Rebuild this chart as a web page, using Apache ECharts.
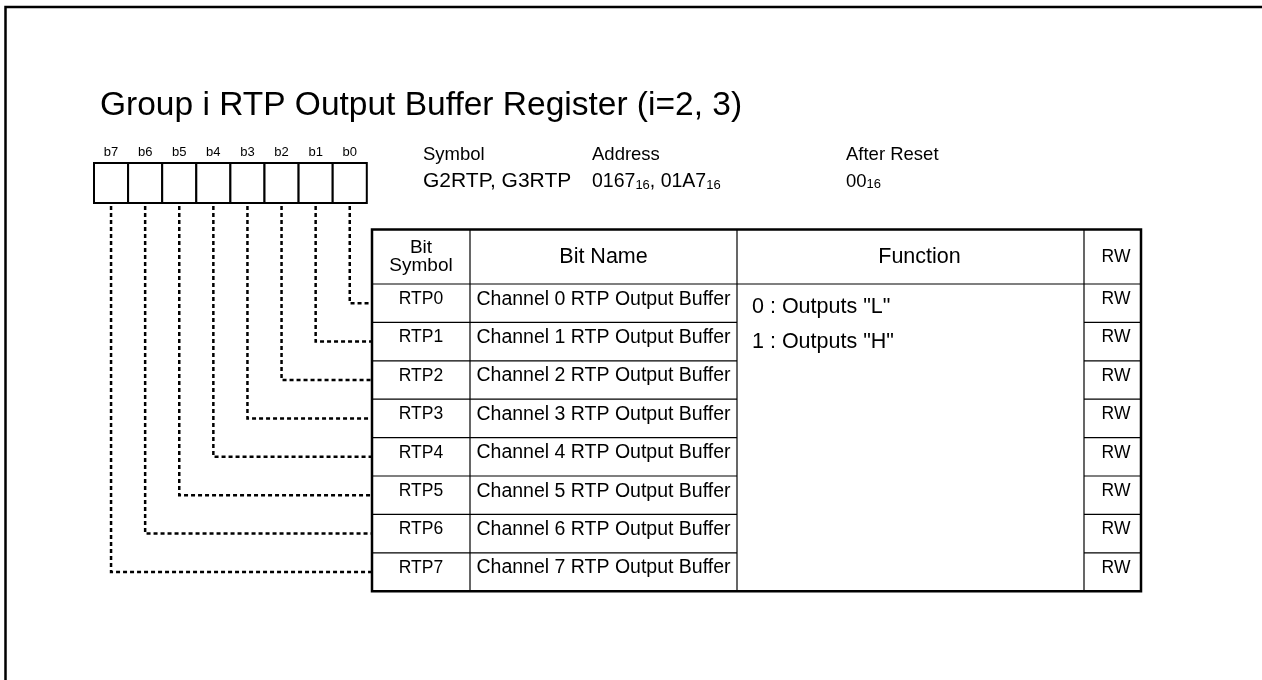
<!DOCTYPE html>
<html>
<head>
<meta charset="utf-8">
<script src="https://cdn.jsdelivr.net/npm/echarts@6/dist/echarts.min.js"></script>
<style>
html,body{margin:0;padding:0;background:#fff;}
#c{width:1262px;height:680px;}
</style>
</head>
<body>
<div id="c"></div>
<script>
// ---------------- data ----------------
const titleText = 'Group i RTP Output Buffer Register (i=2, 3)';
const bitLabels = ['b7', 'b6', 'b5', 'b4', 'b3', 'b2', 'b1', 'b0'];
const infoLabels = ['Symbol', 'Address', 'After Reset'];
const registerSymbols = ['G2RTP', 'G3RTP'];
const registerAddresses = ['0167', '01A7'];
const afterResetValue = '00';
const radix = '16';
const headerLabels = ['Bit\nSymbol', 'Bit Name', 'Function', 'RW'];
const bitSymbols = ['RTP0', 'RTP1', 'RTP2', 'RTP3', 'RTP4', 'RTP5', 'RTP6', 'RTP7'];
const bitNames = [
  'Channel 0 RTP Output Buffer', 'Channel 1 RTP Output Buffer',
  'Channel 2 RTP Output Buffer', 'Channel 3 RTP Output Buffer',
  'Channel 4 RTP Output Buffer', 'Channel 5 RTP Output Buffer',
  'Channel 6 RTP Output Buffer', 'Channel 7 RTP Output Buffer'
];
const functionLines = ['0 : Outputs "L"', '1 : Outputs "H"'];
const rwValues = ['RW', 'RW', 'RW', 'RW', 'RW', 'RW', 'RW', 'RW'];

// ---------------- layout (kept apart from data) ----------------
const FONT = '"Liberation Sans", Arial, Helvetica, sans-serif';
const INK = '#000';
const PAGE = { w: 1262, h: 680, frameX: 5.5, frameY: 7, frameW: 2.5 };
const BB = { left: 94, top: 163, cellW: 34.1, height: 40, labelY: 152, labelSize: 13, lineW: 2 };
const INFO = { xs: [423, 592, 846], labelY: 154.5, valueY: 181.5, labelSize: 18.5, valueSizes: [21, 19.5, 18.5], subSize: 13 };
const TB = {
  top: 229.5, headerH: 54.5, rowH: 38.4,
  cols: [372, 470, 737, 1084, 1141],
  headDx: [0, 0, 9, 3.5], rwDx: 3.5,
  outerW: 2.5, innerW: 1.2, textDy: -4,
  symSize: 17.5, nameSize: 19.5, rwSize: 17.5, headSize: 21.5, headSmall: 19, headSmallLH: 17.5
};
const FN = { x: 752, ys: [307, 342.5], size: 21.5 };
const CONN = { startY: 206, dash: [4, 3], width: 2.5 };

function rowCenter(k) { return TB.top + TB.headerH + (k + 0.5) * TB.rowH; }
function font(size) { return size + 'px ' + FONT; }
function textEl(p, text, size, align, extra) {
  return {
    type: 'text', x: p[0], y: p[1],
    style: Object.assign({ text: text, fill: INK, font: font(size), align: align || 'center', verticalAlign: 'middle' }, extra || {})
  };
}
function lineEl(a, b, w, dash) {
  return { type: 'line', shape: { x1: a[0], y1: a[1], x2: b[0], y2: b[1] },
    style: { stroke: INK, lineWidth: w, lineDash: dash || null } };
}

// page frame (top and left rule)
function renderPage(params, api) {
  return { type: 'polyline',
    shape: { points: [api.coord([PAGE.frameX, PAGE.h]), api.coord([PAGE.frameX, PAGE.frameY]), api.coord([PAGE.w, PAGE.frameY])] },
    style: { stroke: INK, fill: null, lineWidth: PAGE.frameW } };
}

// register bit boxes (one cell per bit label)
function renderBits(params, api) {
  const i = params.dataIndex;
  const p0 = api.coord([BB.left + i * BB.cellW, BB.top]);
  const p1 = api.coord([BB.left + (i + 1) * BB.cellW, BB.top + BB.height]);
  const pl = api.coord([BB.left + (i + 0.5) * BB.cellW, BB.labelY]);
  return { type: 'group', children: [
    { type: 'rect', shape: { x: p0[0], y: p0[1], width: p1[0] - p0[0], height: p1[1] - p0[1] },
      style: { fill: '#fff', stroke: INK, lineWidth: BB.lineW } },
    textEl(pl, bitLabels[i], BB.labelSize)
  ] };
}

// dotted connectors from bit box to its table row
function renderConnectors(params, api) {
  const i = params.dataIndex;            // column in the box (b7 .. b0)
  const k = bitLabels.length - 1 - i;    // bit number -> table row
  const x = BB.left + (i + 0.5) * BB.cellW;
  const y = rowCenter(k);
  const pts = [api.coord([x, CONN.startY]), api.coord([x, y]), api.coord([TB.cols[0], y])];
  return { type: 'polyline', shape: { points: pts },
    style: { stroke: INK, fill: null, lineWidth: CONN.width, lineDash: CONN.dash } };
}

// register info text
function renderInfo(params, api) {
  const ch = [];
  infoLabels.forEach(function (lab, j) {
    ch.push(textEl(api.coord([INFO.xs[j], INFO.labelY]), lab, INFO.labelSize, 'left'));
  });
  const rich = { s: { font: font(INFO.subSize), verticalAlign: 'bottom', fill: INK } };
  const vals = [
    registerSymbols.join(', '),
    registerAddresses.map(function (a) { return a + '{s|' + radix + '}'; }).join(', '),
    afterResetValue + '{s|' + radix + '}'
  ];
  vals.forEach(function (v, j) {
    ch.push(textEl(api.coord([INFO.xs[j], INFO.valueY]), v, INFO.valueSizes[j], 'left', { rich: rich }));
  });
  return { type: 'group', children: ch };
}

// table rows
function renderRow(params, api) {
  const k = params.dataIndex;
  const yc = rowCenter(k);
  const yt = yc + TB.textDy;
  const c = TB.cols;
  const ch = [
    textEl(api.coord([(c[0] + c[1]) / 2, yt]), bitSymbols[k], TB.symSize),
    textEl(api.coord([(c[1] + c[2]) / 2, yt]), bitNames[k], TB.nameSize),
    textEl(api.coord([(c[3] + c[4]) / 2 + TB.rwDx, yt]), rwValues[k], TB.rwSize)
  ];
  if (k < bitSymbols.length - 1) {
    const yb = yc + TB.rowH / 2;
    ch.push(lineEl(api.coord([c[0], yb]), api.coord([c[2], yb]), TB.innerW));
    ch.push(lineEl(api.coord([c[3], yb]), api.coord([c[4], yb]), TB.innerW));
  }
  return { type: 'group', children: ch };
}

// table frame, header and function text
function renderFrame(params, api) {
  const c = TB.cols;
  const top = TB.top, hb = TB.top + TB.headerH, bot = TB.top + TB.headerH + bitSymbols.length * TB.rowH;
  const ch = [];
  for (let j = 1; j < c.length - 1; j++) ch.push(lineEl(api.coord([c[j], top]), api.coord([c[j], bot]), TB.innerW));
  ch.push(lineEl(api.coord([c[0], hb]), api.coord([c[4], hb]), TB.innerW));
  const p0 = api.coord([c[0], top]), p1 = api.coord([c[4], bot]);
  ch.push({ type: 'rect', shape: { x: p0[0], y: p0[1], width: p1[0] - p0[0], height: p1[1] - p0[1] },
    style: { fill: null, stroke: INK, lineWidth: TB.outerW } });
  const hy = (top + hb) / 2;
  headerLabels.forEach(function (h, j) {
    const size = j === 0 ? TB.headSmall : (j === 3 ? TB.rwSize : TB.headSize);
    const extra = j === 0 ? { lineHeight: TB.headSmallLH } : {};
    ch.push(textEl(api.coord([(c[j] + c[j + 1]) / 2 + TB.headDx[j], hy]), h, size, 'center', extra));
  });
  functionLines.forEach(function (f, j) {
    ch.push(textEl(api.coord([FN.x, FN.ys[j]]), f, FN.size, 'left'));
  });
  return { type: 'group', children: ch };
}

const idx = function (arr) { return arr.map(function (_, i) { return [i, i]; }); };

const option = {
  animation: false,
  backgroundColor: '#fff',
  title: {
    text: titleText, left: 100, top: 89, padding: 0,
    textStyle: { fontSize: 33.5, fontWeight: 'normal', color: INK, fontFamily: FONT }
  },
  grid: { show: false, left: 0, top: 0, right: 0, bottom: 0 },
  xAxis: { type: 'value', min: 0, max: PAGE.w, show: false },
  yAxis: { type: 'value', min: 0, max: PAGE.h, inverse: true, show: false },
  series: [
    { type: 'custom', name: 'page', data: [[0, 0]], renderItem: renderPage, silent: true },
    { type: 'custom', name: 'connectors', data: idx(bitLabels), renderItem: renderConnectors, silent: true },
    { type: 'custom', name: 'bits', data: idx(bitLabels), renderItem: renderBits, silent: true },
    { type: 'custom', name: 'info', data: [[0, 0]], renderItem: renderInfo, silent: true },
    { type: 'custom', name: 'rows', data: idx(bitSymbols), renderItem: renderRow, silent: true },
    { type: 'custom', name: 'frame', data: [[0, 0]], renderItem: renderFrame, silent: true }
  ]
};
const chart = echarts.init(document.getElementById('c'));
chart.setOption(option);
</script>
</body>
</html>
